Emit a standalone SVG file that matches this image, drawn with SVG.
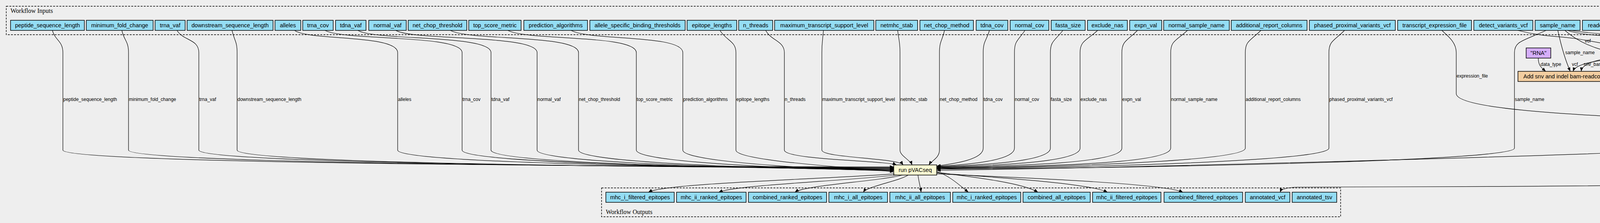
<svg xmlns="http://www.w3.org/2000/svg" width="5869" height="572" viewBox="0 0 5869 572">
<defs>
<marker id="ah" markerUnits="userSpaceOnUse" markerWidth="10" markerHeight="8" refX="10" refY="4" orient="auto"><path d="M0,0 L10,4 L0,8 z" fill="#000"/></marker>
<style>
.bg{fill:#EEEEEE}
.cl{fill:none;stroke:#000;stroke-width:1.4;stroke-dasharray:5,3}
.ct{font-family:"Liberation Serif","Times New Roman",serif;font-size:16px;fill:#000}
.n rect{stroke:#000;stroke-width:1.5}
.in rect{fill:#94DDF4}
.st rect{fill:#FAFAD2}
.sb rect{fill:#F3CEA1}
.df rect{fill:#D5AEFC}
.n text{font-family:"Liberation Sans",Arial,sans-serif;font-size:14.5px;text-anchor:middle;fill:#000}
.e path{fill:none;stroke:#000;stroke-width:1.2;marker-end:url(#ah)}
.e text{font-family:"Liberation Sans",Arial,sans-serif;font-size:12px;fill:#000}
</style>
</defs>
<rect class="bg" x="0" y="0" width="5869" height="572"/>
<rect class="cl" x="16" y="16" width="5836" height="73"/>
<text class="ct" x="27" y="33">Workflow Inputs</text>
<rect class="cl" x="1540" y="482" width="1892" height="74"/>
<text class="ct" x="1551" y="549">Workflow Outputs</text>

<g id="in_peptide_sequence_length" class="n in"><rect x="27" y="52" width="189" height="26"/><text x="121.5" y="70">peptide_sequence_length</text></g>
<g id="in_minimum_fold_change" class="n in"><rect x="221" y="52" width="171" height="26"/><text x="306.5" y="70">minimum_fold_change</text></g>
<g id="in_trna_vaf" class="n in"><rect x="397" y="52" width="77" height="26"/><text x="435.5" y="70">trna_vaf</text></g>
<g id="in_downstream_sequence_length" class="n in"><rect x="479" y="52" width="220" height="26"/><text x="589" y="70">downstream_sequence_length</text></g>
<g id="in_alleles" class="n in"><rect x="704" y="52" width="66" height="26"/><text x="737" y="70">alleles</text></g>
<g id="in_trna_cov" class="n in"><rect x="775" y="52" width="78" height="26"/><text x="814" y="70">trna_cov</text></g>
<g id="in_tdna_vaf" class="n in"><rect x="859" y="52" width="78" height="26"/><text x="898" y="70">tdna_vaf</text></g>
<g id="in_normal_vaf" class="n in"><rect x="944" y="52" width="96" height="26"/><text x="992" y="70">normal_vaf</text></g>
<g id="in_net_chop_threshold" class="n in"><rect x="1045" y="52" width="150" height="26"/><text x="1120" y="70">net_chop_threshold</text></g>
<g id="in_top_score_metric" class="n in"><rect x="1200" y="52" width="134" height="26"/><text x="1267" y="70">top_score_metric</text></g>
<g id="in_prediction_algorithms" class="n in"><rect x="1341" y="52" width="163" height="26"/><text x="1422.5" y="70">prediction_algorithms</text></g>
<g id="in_allele_specific_binding_thresholds" class="n in"><rect x="1510" y="52" width="244" height="26"/><text x="1632" y="70">allele_specific_binding_thresholds</text></g>
<g id="in_epitope_lengths" class="n in"><rect x="1759" y="52" width="127" height="26"/><text x="1822.5" y="70">epitope_lengths</text></g>
<g id="in_n_threads" class="n in"><rect x="1891" y="52" width="87" height="26"/><text x="1934.5" y="70">n_threads</text></g>
<g id="in_maximum_transcript_support_level" class="n in"><rect x="1983" y="52" width="254" height="26"/><text x="2110" y="70">maximum_transcript_support_level</text></g>
<g id="in_netmhc_stab" class="n in"><rect x="2242" y="52" width="107" height="26"/><text x="2295.5" y="70">netmhc_stab</text></g>
<g id="in_net_chop_method" class="n in"><rect x="2355" y="52" width="137" height="26"/><text x="2423.5" y="70">net_chop_method</text></g>
<g id="in_tdna_cov" class="n in"><rect x="2499" y="52" width="81" height="26"/><text x="2539.5" y="70">tdna_cov</text></g>
<g id="in_normal_cov" class="n in"><rect x="2586" y="52" width="99" height="26"/><text x="2635.5" y="70">normal_cov</text></g>
<g id="in_fasta_size" class="n in"><rect x="2691" y="52" width="87" height="26"/><text x="2734.5" y="70">fasta_size</text></g>
<g id="in_exclude_nas" class="n in"><rect x="2784" y="52" width="102" height="26"/><text x="2835" y="70">exclude_nas</text></g>
<g id="in_expn_val" class="n in"><rect x="2892" y="52" width="82" height="26"/><text x="2933" y="70">expn_val</text></g>
<g id="in_normal_sample_name" class="n in"><rect x="2979" y="52" width="168" height="26"/><text x="3063" y="70">normal_sample_name</text></g>
<g id="in_additional_report_columns" class="n in"><rect x="3152" y="52" width="194" height="26"/><text x="3249" y="70">additional_report_columns</text></g>
<g id="in_phased_proximal_variants_vcf" class="n in"><rect x="3352" y="52" width="220" height="26"/><text x="3462" y="70">phased_proximal_variants_vcf</text></g>
<g id="in_transcript_expression_file" class="n in"><rect x="3578" y="52" width="189" height="26"/><text x="3672.5" y="70">transcript_expression_file</text></g>
<g id="in_detect_variants_vcf" class="n in"><rect x="3773" y="52" width="151" height="26"/><text x="3848.5" y="70">detect_variants_vcf</text></g>
<g id="in_sample_name" class="n in"><rect x="3930" y="52" width="115" height="26"/><text x="3987.5" y="70">sample_name</text></g>
<g id="in_readcount_minimum_mapping_quality" class="n in"><rect x="4051" y="52" width="273" height="26"/><text x="4187.5" y="70">readcount_minimum_mapping_quality</text></g>
<g id="in_rnaseq_bam" class="n in"><rect x="4330" y="52" width="102" height="26"/><text x="4381" y="70">rnaseq_bam</text></g>
<g id="in_readcount_minimum_base_quality" class="n in"><rect x="4437" y="52" width="247" height="26"/><text x="4560.5" y="70">readcount_minimum_base_quality</text></g>
<g id="in_binding_threshold" class="n in"><rect x="4690" y="52" width="138" height="26"/><text x="4759" y="70">binding_threshold</text></g>
<g id="in_reference_fasta" class="n in"><rect x="4835" y="52" width="124" height="26"/><text x="4897" y="70">reference_fasta</text></g>
<g id="in_gene_expression_file" class="n in"><rect x="4964" y="52" width="151" height="26"/><text x="5039.5" y="70">gene_expression_file</text></g>
<g id="in_expression_tool" class="n in"><rect x="5129" y="52" width="118" height="26"/><text x="5188" y="70">expression_tool</text></g>
<g id="in_vep_to_table_fields" class="n in"><rect x="5260" y="52" width="149" height="26"/><text x="5334.5" y="70">vep_to_table_fields</text></g>
<g id="in_variants_to_table_fields" class="n in"><rect x="5414" y="52" width="177" height="26"/><text x="5502.5" y="70">variants_to_table_fields</text></g>
<g id="in_variants_to_table_genotype_fields" class="n in"><rect x="5597" y="52" width="246" height="26"/><text x="5720" y="70">variants_to_table_genotype_fields</text></g>

<g id="step_bam_readcount" class="n sb"><rect x="4169" y="123" width="186" height="26"/><text x="4262" y="141">bam_readcount workflow</text></g>
<g id="def_rna" class="n df"><rect x="3907" y="123" width="63" height="26"/><text x="3938.5" y="141">"RNA"</text></g>
<g id="step_add_snv_indel" class="n sb"><rect x="3886" y="183" width="325" height="26"/><text x="4048.5" y="201">Add snv and indel bam-readcount files to a vcf</text></g>
<g id="def_gene" class="n df"><rect x="4244" y="183" width="66" height="26"/><text x="4277" y="201">"gene"</text></g>
<g id="step_add_gene_expr" class="n st"><rect x="4253" y="243" width="190" height="26"/><text x="4348" y="261">add expression info to vcf</text></g>
<g id="def_transcript" class="n df"><rect x="4460" y="243" width="96" height="26"/><text x="4508" y="261">"transcript"</text></g>
<g id="step_add_transcript_expr" class="n st"><rect x="4412" y="303" width="191" height="26"/><text x="4507.5" y="321">add expression info to vcf</text></g>
<g id="step_vcf_index" class="n st"><rect x="4436" y="363" width="82" height="26"/><text x="4477" y="381">vcf index</text></g>
<g id="step_run_pvacseq" class="n st"><rect x="2288" y="423" width="110" height="26"/><text x="2343" y="441">run pVACseq</text></g>
<g id="step_select_variants" class="n st"><rect x="4719" y="423" width="188" height="26"/><text x="4813" y="441">SelectVariants (GATK 3.6)</text></g>
<g id="step_add_vep" class="n st"><rect x="4540" y="493" width="205" height="26"/><text x="4642.5" y="511">add VEP annotation to report</text></g>

<g id="out_mhc_i_filtered_epitopes" class="n in"><rect x="1551" y="493" width="175" height="26"/><text x="1638.5" y="511">mhc_i_filtered_epitopes</text></g>
<g id="out_mhc_ii_ranked_epitopes" class="n in"><rect x="1732" y="493" width="178" height="26"/><text x="1821" y="511">mhc_ii_ranked_epitopes</text></g>
<g id="out_combined_ranked_epitopes" class="n in"><rect x="1916" y="493" width="200" height="26"/><text x="2016" y="511">combined_ranked_epitopes</text></g>
<g id="out_mhc_i_all_epitopes" class="n in"><rect x="2122" y="493" width="150" height="26"/><text x="2197" y="511">mhc_i_all_epitopes</text></g>
<g id="out_mhc_ii_all_epitopes" class="n in"><rect x="2278" y="493" width="155" height="26"/><text x="2355.5" y="511">mhc_ii_all_epitopes</text></g>
<g id="out_mhc_i_ranked_epitopes" class="n in"><rect x="2439" y="493" width="174" height="26"/><text x="2526" y="511">mhc_i_ranked_epitopes</text></g>
<g id="out_combined_all_epitopes" class="n in"><rect x="2619" y="493" width="172" height="26"/><text x="2705" y="511">combined_all_epitopes</text></g>
<g id="out_mhc_ii_filtered_epitopes" class="n in"><rect x="2797" y="493" width="175" height="26"/><text x="2884.5" y="511">mhc_ii_filtered_epitopes</text></g>
<g id="out_combined_filtered_epitopes" class="n in"><rect x="2980" y="493" width="201" height="26"/><text x="3080.5" y="511">combined_filtered_epitopes</text></g>
<g id="out_annotated_vcf" class="n in"><rect x="3188" y="493" width="114" height="26"/><text x="3245" y="511">annotated_vcf</text></g>
<g id="out_annotated_tsv" class="n in"><rect x="3308" y="493" width="114" height="26"/><text x="3365" y="511">annotated_tsv</text></g>

<g id="connectors" class="e">
<path d="M134,78 C142,105 161,105 161,135 L161,385 C161,425 2100,428 2288,428"/>
<path d="M312,78 C318,105 329,105 329,135 L329,385 C329,425 2100,429 2288,429"/>
<path d="M453,78 C470,105 509,100 509,135 L509,385 C509,425 2100,430 2288,430"/>
<path d="M594,78 C600,105 607,105 607,135 L607,385 C607,425 2100,431 2288,431"/>
<path d="M754,78 C790,105 1018,88 1018,135 L1018,385 C1018,424 2100,432 2288,432"/>
<path d="M832,78 C880,105 1183,88 1183,135 L1183,385 C1183,424 2100,433 2288,433"/>
<path d="M916,78 C960,105 1257,88 1257,135 L1257,385 C1257,424 2100,434 2288,434"/>
<path d="M1013,78 C1060,105 1375,88 1375,135 L1375,385 C1375,423 2120,435 2288,435"/>
<path d="M1153,78 C1200,105 1481,88 1481,135 L1481,385 C1481,423 2150,436 2288,436"/>
<path d="M1300,78 C1350,105 1629,88 1629,135 L1629,385 C1629,422 2180,437 2288,437"/>
<path d="M1462,78 C1510,105 1748,88 1748,135 L1748,385 C1748,420 2200,438 2288,438"/>
<path d="M1843,78 C1860,105 1884,105 1884,135 L1884,385 C1884,415 2230,432 2288,441"/>
<path d="M1960,78 C1975,105 2008,105 2008,135 L2008,385 C2008,410 2270,412 2295,423"/>
<path d="M2108,78 C2106,105 2104,105 2104,135 L2104,385 C2104,405 2300,405 2312,423"/>
<path d="M2298,78 C2301,105 2304,105 2304,135 L2304,385 C2304,400 2330,410 2335,423"/>
<path d="M2418,78 C2412,105 2405,105 2405,135 L2405,385 C2405,405 2385,412 2378,423"/>
<path d="M2533,78 C2525,105 2517,105 2517,135 L2517,380 C2517,410 2440,420 2398,426"/>
<path d="M2624,78 C2605,105 2597,105 2597,135 L2597,380 C2597,412 2480,422 2398,427"/>
<path d="M2721,78 C2700,105 2689,105 2689,135 L2689,380 C2689,414 2520,423 2398,428"/>
<path d="M2810,78 C2780,105 2765,105 2765,135 L2765,380 C2765,416 2560,424 2398,429"/>
<path d="M2912,78 C2885,105 2872,105 2872,135 L2872,380 C2872,418 2620,425 2398,430"/>
<path d="M3040,78 C3010,105 2997,105 2997,135 L2997,380 C2997,420 2680,426 2398,431"/>
<path d="M3228,78 C3200,105 3188,105 3188,135 L3188,380 C3188,410 2800,427 2398,432"/>
<path d="M3442,78 C3415,105 3402,105 3402,135 L3402,380 C3402,410 2900,428 2398,433"/>
<path d="M3958,78 C3900,105 3877,105 3877,135 L3877,380 C3877,412 3000,430 2398,434"/>
<path d="M4436,380 C4000,400 3000,428 2398,437"/>
<text x="162" y="259">peptide_sequence_length</text>
<text x="330" y="259">minimum_fold_change</text>
<text x="510" y="259">trna_vaf</text>
<text x="608" y="259">downstream_sequence_length</text>
<text x="1019" y="259">alleles</text>
<text x="1184" y="259">trna_cov</text>
<text x="1258" y="259">tdna_vaf</text>
<text x="1376" y="259">normal_vaf</text>
<text x="1482" y="259">net_chop_threshold</text>
<text x="1630" y="259">top_score_metric</text>
<text x="1749" y="259">prediction_algorithms</text>
<text x="1885" y="259">epitope_lengths</text>
<text x="2009" y="259">n_threads</text>
<text x="2105" y="259">maximum_transcript_support_level</text>
<text x="2305" y="259">netmhc_stab</text>
<text x="2406" y="259">net_chop_method</text>
<text x="2518" y="259">tdna_cov</text>
<text x="2598" y="259">normal_cov</text>
<text x="2690" y="259">fasta_size</text>
<text x="2766" y="259">exclude_nas</text>
<text x="2873" y="259">expn_val</text>
<text x="2998" y="259">normal_sample_name</text>
<text x="3189" y="259">additional_report_columns</text>
<text x="3403" y="259">phased_proximal_variants_vcf</text>
<text x="3878" y="259">sample_name</text>
<text x="4128" y="409">input_vcf</text>

<path d="M2290,446 C2100,460 1700,470 1660,493"/>
<path d="M2295,449 C2150,465 1880,475 1840,493"/>
<path d="M2310,449 C2250,465 2060,475 2035,493"/>
<path d="M2325,449 C2300,465 2220,478 2210,493"/>
<path d="M2350,449 C2352,465 2356,478 2358,493"/>
<path d="M2398,440 C2430,450 2460,478 2479,493"/>
<path d="M2398,442 C2500,455 2620,470 2657,493"/>
<path d="M2398,444 C2550,455 2790,470 2835,493"/>
<path d="M2398,446 C2600,455 2980,470 3028,493"/>

<path d="M3886,78 C3950,95 3990,92 4040,100 C4100,110 4140,118 4169,125"/>
<text x="4057" y="109">vcf</text>
<path d="M4013,78 C4060,95 4150,90 4190,100 C4205,105 4210,115 4213,123"/>
<text x="4191" y="109">sample</text>
<path d="M4201,78 C4215,95 4240,105 4250,123"/>
<text x="4236" y="109">min_mapping_quality</text>
<path d="M4376,78 C4372,95 4350,108 4337,123"/>
<text x="4365" y="109">bam</text>
<path d="M4508,78 C4460,95 4380,105 4346,123"/>
<text x="4425" y="109">min_base_quality</text>
<path d="M4870,78 C4800,95 4600,92 4520,100 C4440,108 4400,128 4356,132"/>
<text x="4532" y="109">reference_fasta</text>

<path d="M4169,145 C4100,155 4035,160 4027,183"/>
<text x="4024" y="169">vcf</text>
<path d="M4170,141 C4100,150 4050,160 4048,183"/>
<text x="4054" y="169">snv_bam_readcount_tsv</text>
<path d="M4222,149 C4210,165 4170,170 4155,183"/>
<text x="4197" y="169">indel_bam_readcount_tsv</text>
<path d="M3938,149 C3938,170 3948,175 3957,183"/>
<text x="3944" y="169">data_type</text>
<path d="M3988,78 C3995,110 4005,150 4020,183"/>
<text x="4007" y="139">sample_name</text>

<path d="M4006,78 C4060,125 4130,142 4250,148 C4330,152 4350,170 4350,243"/>
<text x="4339" y="169">sample_name</text>
<path d="M5164,78 C5100,95 4850,95 4750,100 C4650,106 4560,115 4500,140 C4440,170 4390,190 4365,243"/>
<text x="4449" y="169">expression_tool</text>
<path d="M5008,78 C4960,95 4800,92 4700,100 C4620,108 4580,140 4550,170 C4510,210 4450,225 4412,243"/>
<text x="4547" y="169">expression_file</text>
<path d="M4110,209 L4284,243"/>
<text x="4226" y="229">vcf</text>
<path d="M4277,209 C4277,225 4285,235 4290,243"/>
<text x="4282" y="229">data_type</text>

<path d="M3691,78 C3710,95 3728,110 3728,135 L3728,240 C3728,290 4200,300 4412,313"/>
<text x="3729" y="199">expression_file</text>
<path d="M4020,78 C4150,98 4400,95 4500,102 C4600,110 4615,165 4590,178 C4570,188 4565,210 4562,250 L4555,303"/>
<text x="4582" y="199">sample_name</text>
<path d="M5164,78 C5120,95 5000,96 4900,98 C4750,100 4668,110 4667,145 L4667,255 C4667,280 4620,290 4585,303"/>
<text x="4667" y="199">expression_tool</text>
<path d="M4379,269 L4470,303"/>
<text x="4441" y="289">vcf</text>
<path d="M4508,269 L4508,303"/>
<text x="4508" y="289">data_type</text>

<path d="M4505,329 C4500,345 4495,355 4490,363"/>
<text x="4495" y="349">vcf</text>
<path d="M4518,385 C4600,400 4700,412 4745,423"/>
<text x="4676" y="409">vcf</text>
<path d="M4489,389 C4510,430 4560,470 4578,493"/>
<text x="4541" y="439">vcf</text>
<path d="M4780,449 C4740,465 4680,480 4650,493"/>
<text x="4750" y="469">tsv</text>

<path d="M4872,78 C4830,110 4778,140 4778,190 L4778,378 C4778,400 4785,412 4792,423"/>
<text x="4779" y="259">reference</text>
<path d="M5296,78 C5250,95 5200,100 5100,108 C4950,115 4870,130 4820,165 C4760,210 4720,280 4712,320 L4705,460 C4702,475 4698,485 4695,493"/>
<text x="4715" y="289">vep_fields</text>
<path d="M5456,78 C5420,88 5400,92 5300,94 C5200,96 5171,110 5171,135 L5171,378 C5171,410 5000,420 4909,428"/>
<text x="5172" y="259">fields</text>
<path d="M5652,78 C5580,100 5466,105 5466,135 L5466,378 C5466,420 5100,420 4909,432"/>
<text x="5467" y="259">genotype_fields</text>

<path d="M4513,329 C4535,400 4530,460 4420,474 C4200,478 3600,479 3320,480 C3295,481 3280,485 3277,493"/>
</g>
</svg>
